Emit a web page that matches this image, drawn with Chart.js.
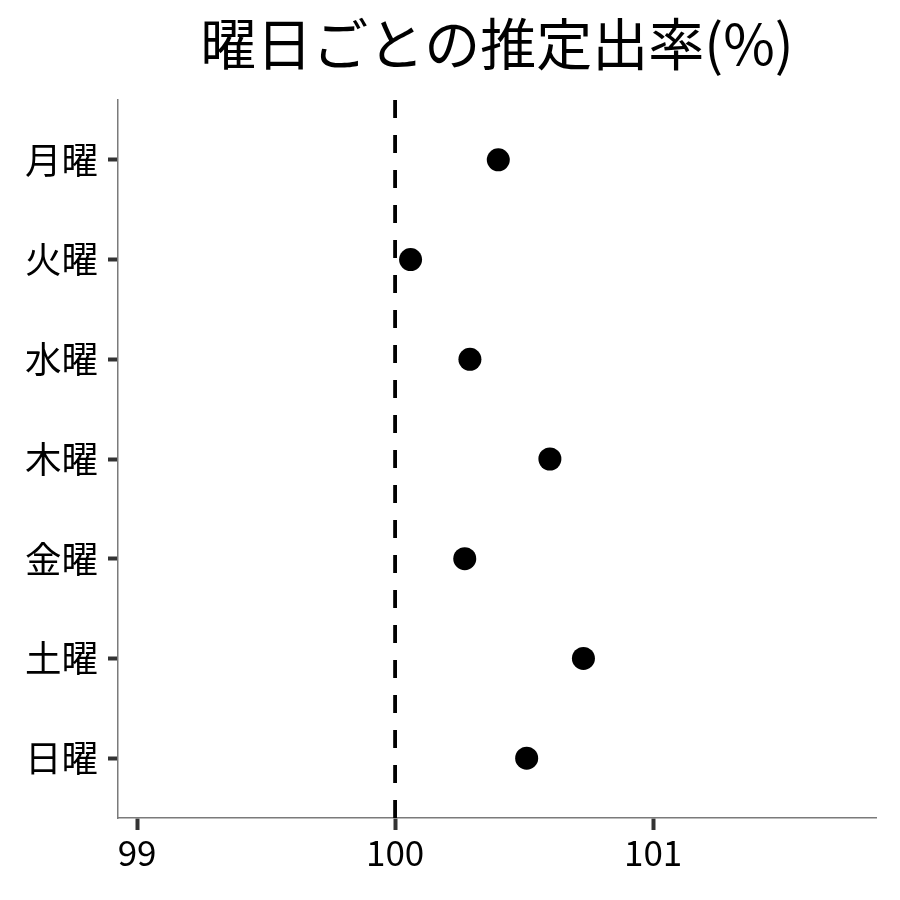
<!DOCTYPE html>
<html>
<head>
<meta charset="utf-8">
<script src="https://cdn.jsdelivr.net/npm/chart.js@4"></script>
<style>
	html, body { margin: 0; padding: 0; background: #fff; }
	#wrap { width: 900px; height: 900px; }
</style>
</head>
<body>
<div id="wrap"><canvas id="myChart" width="900" height="900"></canvas></div>
<script>
const title = '曜日ごとの推定出率(%)';
const days = ['月曜', '火曜', '水曜', '木曜', '金曜', '土曜', '日曜'];
const rates = [100.40, 100.06, 100.29, 100.60, 100.27, 100.73, 100.51];
const xTicks = [99, 100, 101];
const refValue = 100;

const font = '"Noto Sans CJK JP", "Noto Sans", sans-serif';

// title centred over the plot panel, like the reference
const panelTitle = {
	id: 'panelTitle',
	afterDraw(chart){
		const ctx = chart.ctx;
		const a = chart.chartArea;
		ctx.save();
		ctx.font = '56px ' + font;
		ctx.fillStyle = '#000';
		ctx.textAlign = 'center';
		ctx.textBaseline = 'middle';
		ctx.fillText(title, (a.left + a.right) / 2, 44);
		ctx.restore();
	}
};

const ctx = document.getElementById('myChart');
new Chart(ctx, {
	data: {
		datasets: [{
			type: 'line',
			data: [{x: refValue, y: days.length - 0.4}, {x: refValue, y: -0.6}],
			borderColor: '#000',
			borderWidth: 3.8,
			borderDash: [18, 17],
			pointRadius: 0,
			order: 2
		}, {
			type: 'scatter',
			data: rates.map((v, i) => ({x: v, y: i})),
			backgroundColor: '#000',
			borderWidth: 0,
			pointRadius: 11.5,
			order: 1
		}]
	},
	options: {
		responsive: false,
		animation: false,
		layout: { padding: { top: 100, right: 24, left: 0, bottom: 0 } },
		plugins: {
			legend: { display: false },
			tooltip: { enabled: false }
		},
		scales: {
			x: {
				type: 'linear',
				min: 98.926,
				max: 101.864,
				afterBuildTicks: s => { s.ticks = xTicks.map(v => ({value: v})); },
				afterFit: s => { s.height = 82; },
				border: { color: '#7a7a7a', width: 1.5 },
				grid: { drawOnChartArea: false, drawTicks: true, tickLength: 12, tickWidth: 4, tickColor: '#333' },
				ticks: { color: '#000', padding: 2, font: { family: font, size: 35 }, maxRotation: 0 }
			},
			y: {
				type: 'linear',
				reverse: true,
				min: -0.6,
				max: days.length - 0.4,
				afterBuildTicks: s => { s.ticks = days.map((d, i) => ({value: i})); },
				afterFit: s => { s.width = 118; },
				border: { color: '#7a7a7a', width: 1.5 },
				grid: { drawOnChartArea: false, drawTicks: true, tickLength: 10, tickWidth: 4, tickColor: '#333' },
				ticks: {
					color: '#000',
					padding: 10,
					font: { family: font, size: 36.5 },
					callback: v => days[v]
				}
			}
		}
	},
	plugins: [panelTitle]
});
</script>
</body>
</html>
